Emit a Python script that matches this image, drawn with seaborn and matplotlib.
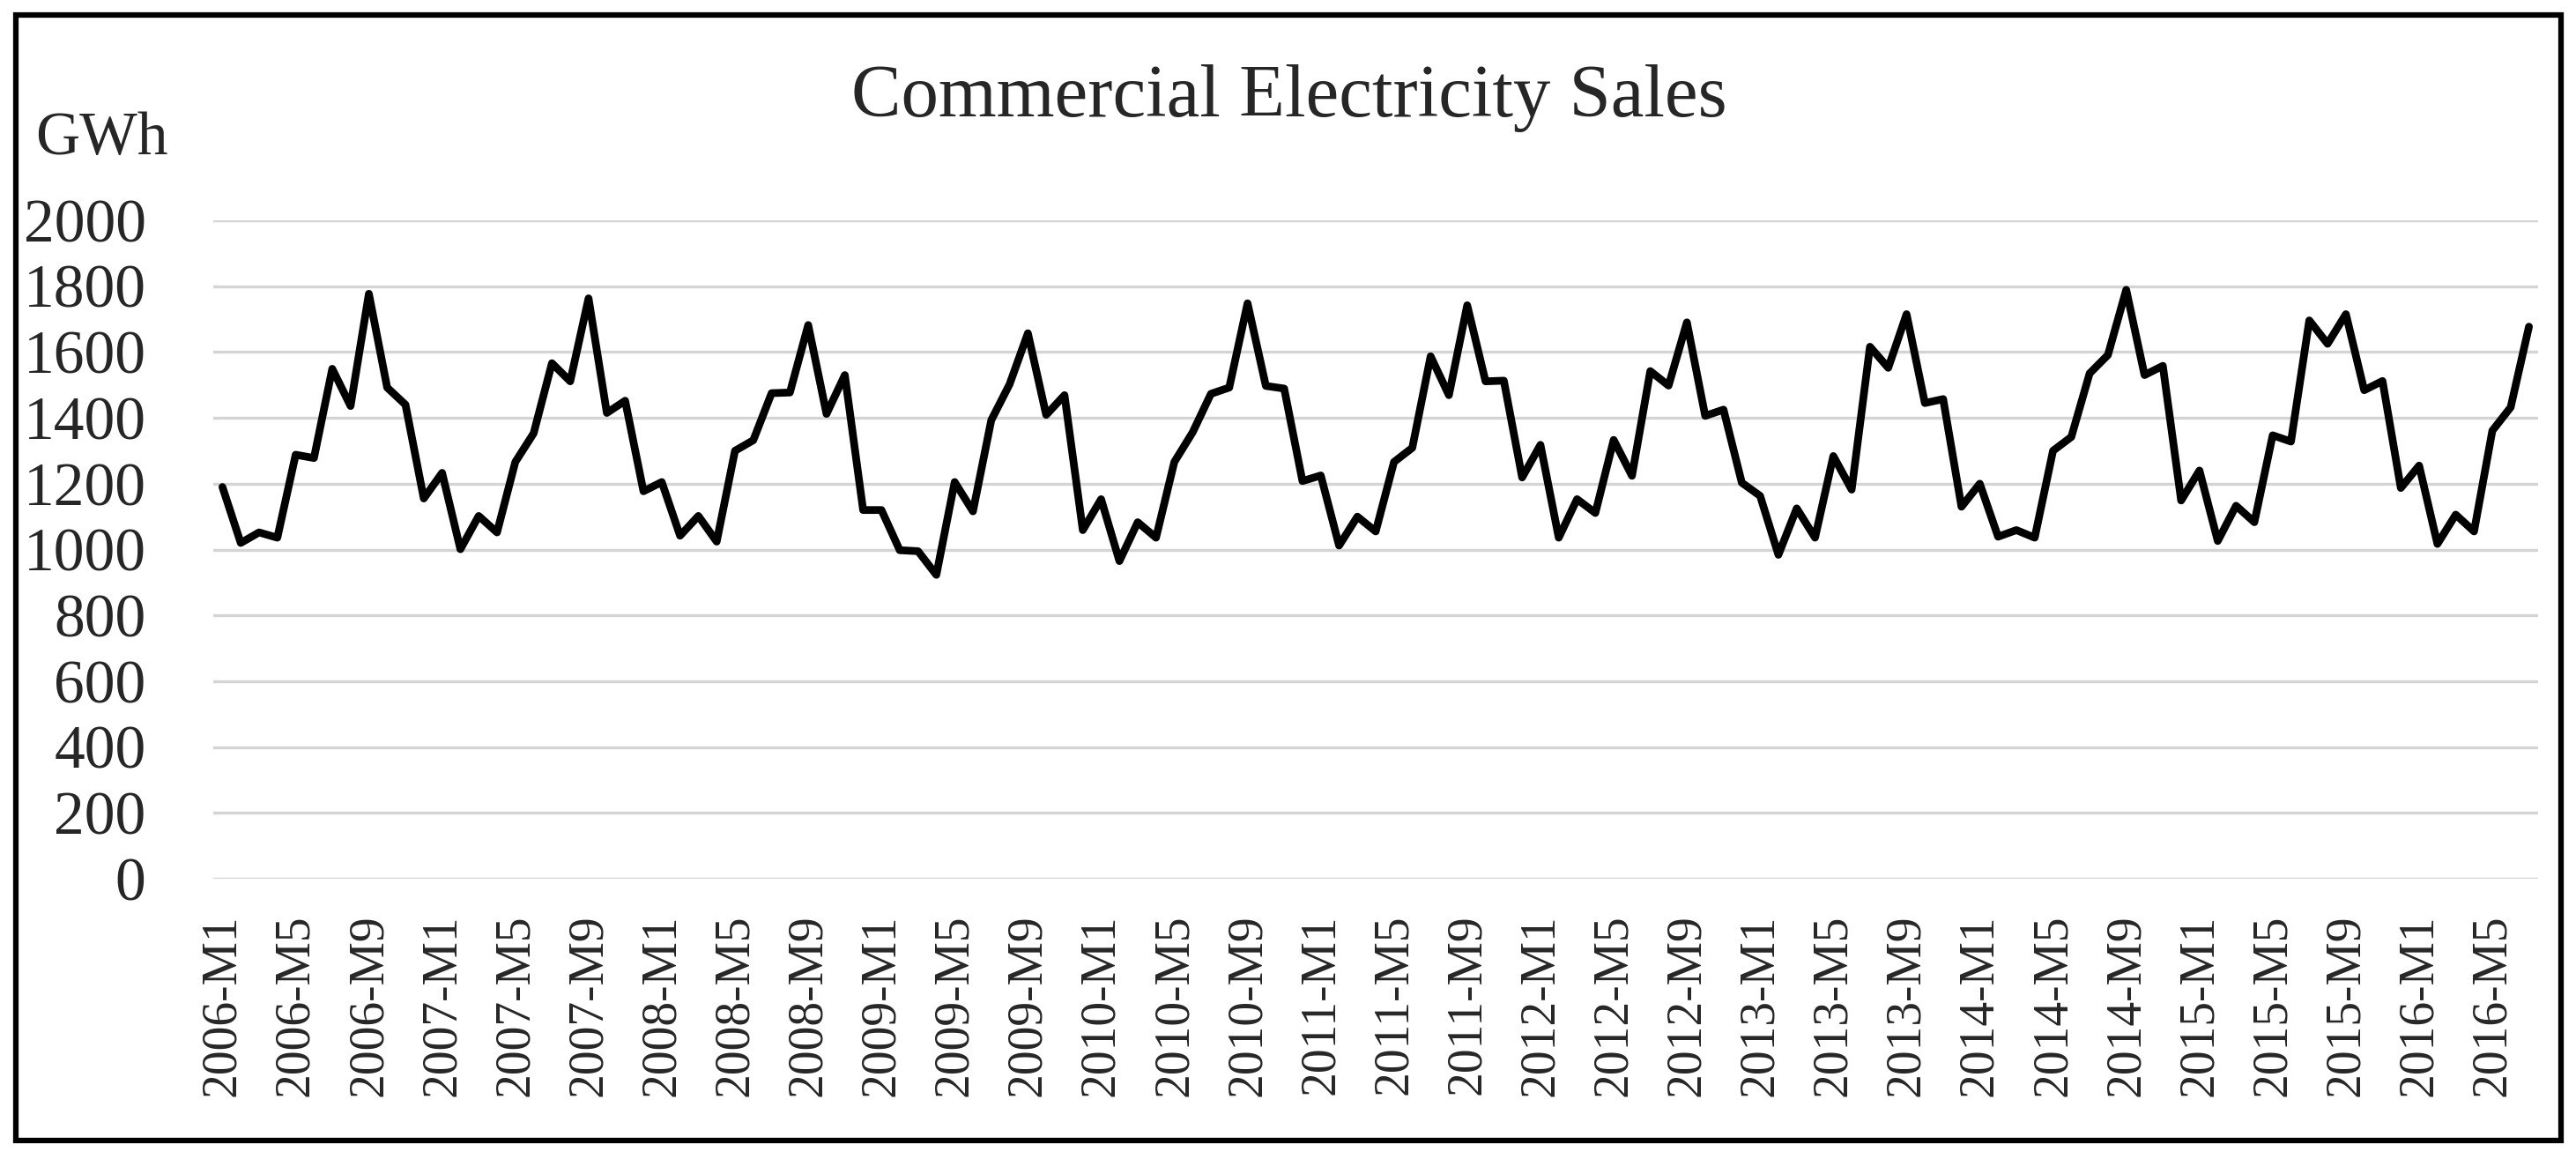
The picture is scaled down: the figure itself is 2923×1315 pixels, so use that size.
import matplotlib
matplotlib.use("Agg")
import matplotlib.pyplot as plt
from matplotlib.patches import Rectangle
import seaborn as sns
import pandas as pd

# ---- data ----
years = list(range(2006, 2017))
months = [f"{y}-M{m}" for y in years for m in range(1, 13)][:127]   # 2006-M1 .. 2016-M7

sales_gwh = [
    1190, 1020, 1052, 1036, 1288, 1278, 1549, 1436, 1777, 1492, 1440, 1155,   # 2006
    1233, 1001, 1102, 1052, 1266, 1353, 1566, 1511, 1763, 1415, 1452, 1177,   # 2007
    1205, 1042, 1102, 1024, 1300, 1332, 1475, 1477, 1682, 1412, 1530, 1120,   # 2008
    1120, 998, 995, 923, 1205, 1116, 1393, 1502, 1657, 1409, 1469, 1059,      # 2009
    1153, 965, 1083, 1036, 1266, 1356, 1473, 1492, 1748, 1497, 1489, 1208,    # 2010
    1225, 1012, 1100, 1055, 1266, 1309, 1587, 1469, 1742, 1511, 1513, 1219,   # 2011
    1318, 1036, 1153, 1111, 1333, 1224, 1542, 1498, 1690, 1406, 1425, 1203,   # 2012
    1163, 984, 1125, 1036, 1284, 1182, 1616, 1552, 1715, 1445, 1457, 1130,    # 2013
    1200, 1039, 1059, 1036, 1300, 1342, 1535, 1591, 1789, 1530, 1558, 1149,   # 2014
    1240, 1026, 1133, 1083, 1347, 1328, 1696, 1625, 1715, 1484, 1512, 1187,   # 2015
    1255, 1017, 1106, 1055, 1361, 1432, 1677,                                 # 2016
]

y_ticks = [0, 200, 400, 600, 800, 1000, 1200, 1400, 1600, 1800, 2000]
tick_every = 4

df = pd.DataFrame({"idx": range(len(months)), "month": months, "sales": sales_gwh})

# ---- figure ----
W, H = 2923, 1315
sns.set_style("white")
plt.rcParams["font.family"] = ["Liberation Serif", "DejaVu Serif"]

fig = plt.figure(figsize=(W / 100, H / 100), dpi=100)
fig.patch.set_facecolor("white")

ax_l, ax_r, ax_t, ax_b = 242, 2880, 250, 997
ax = fig.add_axes([ax_l / W, 1 - ax_b / H, (ax_r - ax_l) / W, (ax_b - ax_t) / H])

sns.lineplot(data=df, x="idx", y="sales", ax=ax, color="black", linewidth=6.3,
             legend=False)

ax.set_xlim(-0.5, len(months) - 0.5)
ax.set_ylim(0, 2000)
ax.set_yticks(y_ticks)
ax.set_yticklabels([str(v) for v in y_ticks], fontsize=50)
tick_pos = list(range(0, len(months), tick_every))
ax.set_xticks(tick_pos)
ax.set_xticklabels([months[i] for i in tick_pos], rotation=90, fontsize=40,
                   va="top", ha="center")
ax.tick_params(axis="y", length=0, pad=55)
ax.tick_params(axis="x", length=0, pad=29)
ax.set_xlabel("")
ax.set_ylabel("")
for s in ax.spines.values():
    s.set_visible(False)
ax.yaxis.grid(True, color="#d4d4d4", linewidth=2.4)
ax.xaxis.grid(False)
ax.set_axisbelow(True)

fig.text(1463 / W, 1 - 132 / H, "Commercial Electricity Sales", fontsize=61,
         ha="center", va="baseline")
fig.text(40 / W, 1 - 175 / H, "GWh", fontsize=50, ha="left", va="baseline")

# outer frame
fx0, fx1, fy0, fy1 = 18, 2906, 17, 1294
fig.patches.append(Rectangle((fx0 / W, 1 - fy1 / H), (fx1 - fx0) / W, (fy1 - fy0) / H,
                             transform=fig.transFigure, fill=False,
                             edgecolor="black", linewidth=4.5))

fig.savefig("out.png", dpi=100, facecolor="white")
